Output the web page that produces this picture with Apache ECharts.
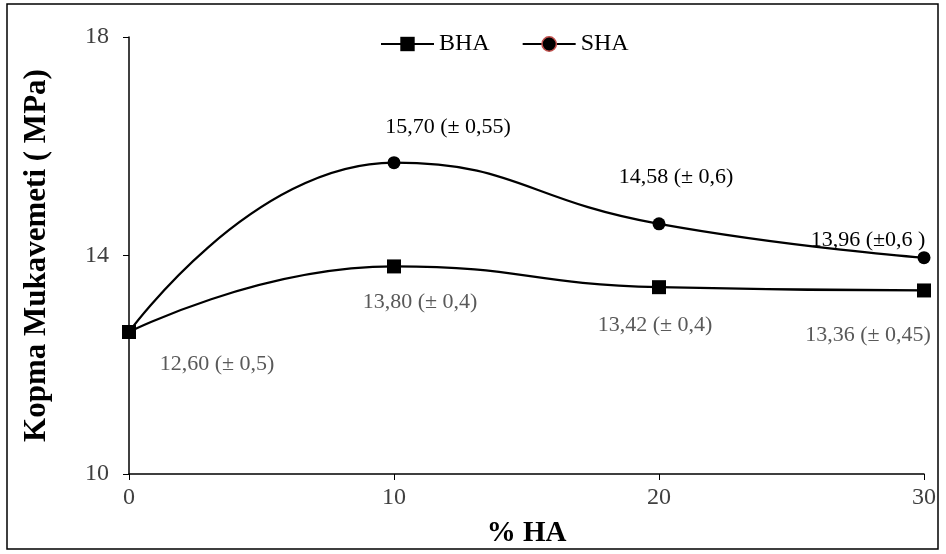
<!DOCTYPE html>
<html>
<head>
<meta charset="utf-8">
<script src="https://cdn.jsdelivr.net/npm/echarts@6/dist/echarts.min.js"></script>
<style>
  html, body { margin: 0; padding: 0; background: #fff; }
  #tubiao { width: 946px; height: 554px; }
</style>
</head>
<body>
<div id="tubiao"></div>
<script>
// veriler
var haPercent = [0, 10, 20, 30];
var bhaValues = [12.60, 13.80, 13.42, 13.36];
var shaValues = [12.60, 15.70, 14.58, 13.96];
var bhaLabels = ['12,60 (± 0,5)', '13,80 (± 0,4)', '13,42 (± 0,4)', '13,36 (± 0,45)'];
var shaLabels = ['', '15,70 (± 0,55)', '14,58 (± 0,6)', '13,96 (±0,6 )'];
var yTicks = [10, 14, 18];

var serif = '"Liberation Serif", "DejaVu Serif", serif';

// etiket konumlari
var bhaOffsets = [[88, 32], [26, 36], [-4, 38], [-56, 45]];
var shaOffsets = [[0, 0], [54, -35], [17, -47], [-56, -17]];

function buildData(values, labels, offsets, color) {
  return values.map(function (v, i) {
    return {
      value: [haPercent[i], v],
      label: {
        show: labels[i] !== '',
        formatter: labels[i],
        position: 'inside',
        offset: offsets[i],
        color: color,
        fontFamily: serif,
        fontSize: 22
      }
    };
  });
}

var myChart = echarts.init(document.getElementById('tubiao'));
var option = {
  animation: false,
  backgroundColor: '#fff',
  graphic: [{
    type: 'rect',
    shape: { x: 7, y: 4, width: 931, height: 545 },
    style: { fill: 'none', stroke: '#000', lineWidth: 1.5 },
    z: 100
  }],
  legend: {
    top: 27,
    left: 375,
    itemWidth: 53,
    itemHeight: 18,
    itemGap: 32,
    textStyle: { fontFamily: serif, fontSize: 24, color: '#000' },
    data: [
      { name: 'BHA' },
      { name: 'SHA', itemStyle: { borderColor: '#c0504d', borderWidth: 1.5 } }
    ]
  },
  grid: { left: 129, right: 22, top: 37, bottom: 80 },
  xAxis: {
    type: 'value',
    min: 0, max: 30, interval: 10,
    name: '% HA',
    nameLocation: 'middle',
    nameGap: 45,
    nameTextStyle: { fontFamily: serif, fontSize: 29, fontWeight: 'bold', color: '#000' },
    axisLine: { lineStyle: { color: '#000', width: 1.5 } },
    axisTick: { show: true, length: 6, lineStyle: { color: '#000' } },
    axisLabel: { fontFamily: serif, fontSize: 24, color: '#404040', margin: 12 },
    splitLine: { show: false }
  },
  yAxis: {
    type: 'value',
    min: yTicks[0], max: yTicks[yTicks.length - 1], interval: 4,
    name: 'Kopma Mukavemeti ( MPa)',
    nameLocation: 'middle',
    nameGap: 77,
    nameTextStyle: { fontFamily: serif, fontSize: 31, fontWeight: 'bold', color: '#000' },
    axisLine: { show: true, lineStyle: { color: '#000', width: 1.5 } },
    axisTick: { show: true, length: 6, lineStyle: { color: '#000' } },
    axisLabel: { fontFamily: serif, fontSize: 24, color: '#404040', margin: 20 },
    splitLine: { show: false }
  },
  series: [
    {
      name: 'BHA',
      type: 'line',
      smooth: 0.5,
      symbol: 'rect',
      symbolSize: 14,
      lineStyle: { color: '#000', width: 2.2 },
      itemStyle: { color: '#000' },
      data: buildData(bhaValues, bhaLabels, bhaOffsets, '#595959')
    },
    {
      name: 'SHA',
      type: 'line',
      smooth: 0.5,
      symbol: 'circle',
      symbolSize: 13,
      lineStyle: { color: '#000', width: 2.2 },
      itemStyle: { color: '#000' },
      data: buildData(shaValues, shaLabels, shaOffsets, '#000')
    }
  ]
};
myChart.setOption(option);
</script>
</body>
</html>
